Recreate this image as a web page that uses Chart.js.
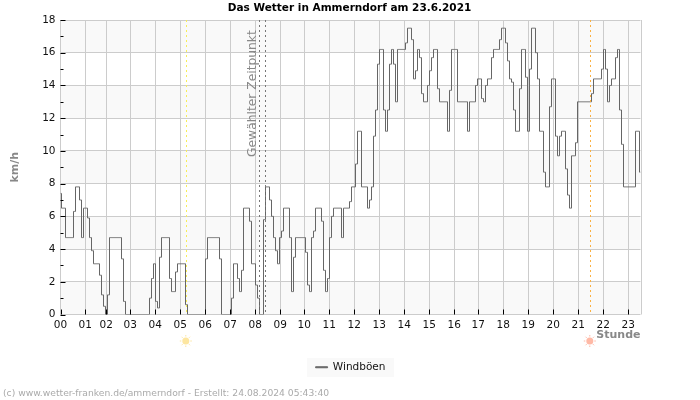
<!DOCTYPE html>
<html>
<head>
<meta charset="utf-8">
<title>Windböen</title>
<script src="https://cdn.jsdelivr.net/npm/chart.js@4"></script>
<style>
  html, body { margin: 0; padding: 0; background: #fff; }
  canvas { display: block; }
</style>
</head>
<body>
<canvas id="myChart" width="700" height="400"></canvas>
<script>
// one value per 2px column of the original plot
const windGusts = [
  7.4, 6.5, 6.5, 4.7, 4.7, 4.7, 4.7, 6.3, 7.8, 7.8, 7.0, 4.7,
  6.5, 6.5, 5.9, 4.7, 3.9, 3.1, 3.1, 3.1, 2.4, 1.2, 0.5, 0,
  1.2, 4.7, 4.7, 4.7, 4.7, 4.7, 4.7, 3.4, 0.8, 0, 0, 0,
  0, 0, 0, 0, 0, 0, 0, 0, 0, 1.0, 2.2, 3.1,
  0.8, 0.4, 3.5, 4.7, 4.7, 4.7, 4.7, 2.2, 1.4, 1.4, 2.6, 3.1,
  3.1, 3.1, 3.1, 0.6, 0, 0, 0, 0, 0, 0, 0, 0,
  0, 3.4, 4.7, 4.7, 4.7, 4.7, 4.7, 4.7, 3.4, 0, 0, 0,
  0, 0, 1.0, 3.1, 3.1, 2.2, 1.4, 2.7, 6.5, 6.5, 6.5, 5.7,
  3.1, 3.1, 1.8, 1.0, 0, 0, 5.8, 7.8, 7.8, 7.0, 6.0, 4.7,
  3.9, 3.1, 4.7, 5.1, 6.5, 6.5, 6.5, 4.7, 1.4, 3.5, 4.7, 4.7,
  4.7, 4.7, 4.7, 3.8, 1.8, 1.4, 4.7, 5.1, 6.5, 6.5, 6.5, 5.7,
  2.7, 1.4, 2.2, 4.7, 6.0, 6.5, 6.5, 6.5, 6.5, 4.7, 6.5, 6.5,
  6.5, 6.9, 7.8, 7.8, 9.2, 11.2, 11.2, 7.8, 7.8, 7.8, 6.5, 7.0,
  7.8, 10.9, 12.5, 15.3, 16.2, 16.2, 12.5, 11.2, 12.5, 15.3, 16.2, 15.3,
  13, 16.2, 16.2, 16.2, 16.2, 16.6, 17.5, 17.5, 16.8, 14.4, 14.9, 16.2,
  15.7, 13.5, 13, 13, 14, 14.9, 15.7, 16.2, 16.2, 13.8, 13, 13,
  13, 13, 11.2, 13.7, 16.2, 16.2, 16.2, 13, 13, 13, 13, 13,
  11.2, 13, 13, 13, 14, 14.4, 14.4, 13.2, 13, 14, 14.4, 14.4,
  15.7, 16.2, 16.2, 16.2, 16.8, 17.5, 17.5, 16.6, 15.5, 14.4, 14.2, 12.5,
  11.2, 11.2, 13.8, 16.2, 16.2, 14.5, 11.2, 15, 17.5, 17.5, 16, 14.4,
  11.2, 11.2, 8.7, 7.8, 7.8, 12.7, 14.4, 14.4, 10.9, 9.7, 10.9, 11.2,
  11.2, 8.9, 7.3, 6.5, 9.7, 9.7, 10.5, 13, 13, 13, 13, 13,
  13, 13, 13.5, 14.4, 14.4, 14.4, 14.4, 15, 16.2, 15, 13, 14,
  14.4, 14.4, 15.7, 16.2, 12.5, 10.4, 7.8, 7.8, 7.8, 7.8, 7.8, 7.8,
  11.2, 11.2, 8.7
];
const hourLabels = ["00","01","02","03","04","05","06","07","08","09","10","11",
  "12","13","14","15","16","17","18","19","20","21","22","23"];
// the hours are not evenly spaced in the original, samples are missing here and there
const hourPositions = [0, 12.4, 22.9, 34.9, 47.4, 59.9, 72.4, 84.9, 97.4, 109.9, 121.9, 134.4,
  146.9, 159.4, 171.9, 184.4, 196.9, 208.9, 221.4, 233.9, 246.4, 258.9, 271.4, 283.9];
const lastSample = 290;

const sunrise = 62.9;
const sunset = 264.9;
const chosenTimes = [99.4, 102.4];

const gridColor = "#cccccc";

const extras = {
  id: "extras",
  afterLayout(chart) {
    // the legend and title boxes stop at the right padding, put them back on the page centre
    const { legend, titleBlock } = chart;
    legend.left = 307;
    legend.right = 394;
    legend.width = 87;
    legend.top = 358;
    legend.bottom = 377;
    legend.height = 19;
    titleBlock.left = 0;
    titleBlock.right = 699;
    titleBlock.width = 699;
  },
  beforeDraw(chart) {
    const { ctx, chartArea: area, scales: { y }, legend } = chart;
    ctx.save();
    ctx.fillStyle = "#f9f9f9";
    for (let v = 0; v < 18; v += 4) {
      ctx.fillRect(area.left, y.getPixelForValue(v + 2), area.right - area.left, y.getPixelForValue(v) - y.getPixelForValue(v + 2));
    }
    ctx.fillRect(legend.left, legend.top, legend.width, legend.height);
    ctx.restore();
  },
  afterDatasetsDraw(chart) {
    const { ctx, chartArea: area, scales: { x, y } } = chart;
    ctx.save();

    // right frame line
    ctx.strokeStyle = gridColor;
    ctx.lineWidth = 1;
    ctx.beginPath();
    ctx.moveTo(Math.round(area.right) + 0.5, area.top);
    ctx.lineTo(Math.round(area.right) + 0.5, area.bottom);
    ctx.stroke();

    // inward tick marks
    ctx.strokeStyle = "#000";
    ctx.beginPath();
    hourPositions.forEach((p) => {
      const px = Math.round(x.getPixelForValue(p)) + 0.5;
      ctx.moveTo(px, area.bottom - 5);
      ctx.lineTo(px, area.bottom);
    });
    for (let v = 0; v <= 18; v++) {
      const py = Math.round(y.getPixelForValue(v)) + 0.5;
      ctx.moveTo(area.left, py);
      ctx.lineTo(area.left + (v % 2 ? 3 : 5), py);
    }
    ctx.stroke();

    // dotted marker lines
    const dotted = (pos, color) => {
      const px = Math.round(x.getPixelForValue(pos)) + 0.5;
      ctx.strokeStyle = color;
      ctx.setLineDash([2, 3]);
      ctx.beginPath();
      ctx.moveTo(px, area.top);
      ctx.lineTo(px, area.bottom);
      ctx.stroke();
      ctx.setLineDash([]);
    };
    dotted(sunrise, "#f7ee5a");
    dotted(sunset, "#fbb040");
    chosenTimes.forEach((t) => dotted(t, "#777777"));

    ctx.fillStyle = "#888888";
    ctx.font = "12.3px 'DejaVu Sans'";
    ctx.textAlign = "left";
    ctx.textBaseline = "alphabetic";
    ctx.translate(256, 157);
    ctx.rotate(-Math.PI / 2);
    ctx.fillText("Gewählter Zeitpunkt", 0, 0);
    ctx.restore();

    // sun icons under the axis
    const sun = (pos, color) => {
      const px = x.getPixelForValue(pos) - 0.5;
      const py = 341;
      ctx.save();
      ctx.fillStyle = color;
      ctx.strokeStyle = color;
      ctx.lineWidth = 1;
      ctx.beginPath();
      ctx.arc(px, py, 3.5, 0, Math.PI * 2);
      ctx.fill();
      for (let a = 0; a < 8; a++) {
        const ang = (a * Math.PI) / 4;
        ctx.beginPath();
        ctx.moveTo(px + Math.cos(ang) * 4.5, py + Math.sin(ang) * 4.5);
        ctx.lineTo(px + Math.cos(ang) * 6, py + Math.sin(ang) * 6);
        ctx.stroke();
      }
      ctx.restore();
    };
    sun(sunrise, "#fde6a0");
    sun(sunset, "#ffb9a6");

    ctx.save();
    ctx.fillStyle = "#aaaaaa";
    ctx.font = "9.2px 'DejaVu Sans'";
    ctx.textAlign = "left";
    ctx.textBaseline = "alphabetic";
    ctx.fillText("(c) www.wetter-franken.de/ammerndorf - Erstellt: 24.08.2024 05:43:40", 3, 396);
    ctx.restore();
  },
};

new Chart("myChart", {
  type: "line",
  data: {
    datasets: [
      {
        label: "Windböen",
        data: windGusts.map((v, i) => ({ x: i, y: v })),
        borderColor: "#666666",
        backgroundColor: "#666666",
        borderWidth: 1,
        pointRadius: 0,
        stepped: "middle",
        fill: false,
      },
    ],
  },
  options: {
    responsive: false,
    animation: false,
    devicePixelRatio: 1,
    layout: { padding: { left: 0, right: 59.5, top: 0, bottom: 23 } },
    scales: {
      x: {
        type: "linear",
        min: 0,
        max: lastSample,
        afterBuildTicks(scale) {
          scale.ticks = hourPositions.map((p) => ({ value: p }));
        },
        afterFit(scale) {
          scale.height = 38;
        },
        grid: { color: gridColor, drawTicks: false },
        border: { display: false },
        ticks: {
          autoSkip: false,
          maxRotation: 0,
          padding: 4,
          color: "#111",
          font: { family: "'DejaVu Sans'", size: 10.5 },
          callback: (value, index) => hourLabels[index],
        },
        title: {
          display: true,
          text: "Stunde",
          align: "end",
          color: "#888888",
          font: { family: "'DejaVu Sans'", size: 11, weight: "bold" },
          padding: { top: 0, bottom: 11 },
        },
      },
      y: {
        min: 0,
        max: 18,
        afterFit(scale) {
          scale.width = 60.5;
        },
        grid: {
          color: (ctx) => (ctx.tick && ctx.tick.value % 2 ? "rgba(0,0,0,0)" : gridColor),
          drawTicks: false,
        },
        border: { display: false },
        ticks: {
          stepSize: 1,
          autoSkip: false,
          padding: 5,
          color: "#111",
          font: { family: "'DejaVu Sans'", size: 10.5 },
          callback: (value) => (value % 2 ? "" : value),
        },
        title: {
          display: true,
          text: "km/h",
          color: "#888888",
          font: { family: "'DejaVu Sans'", size: 11, weight: "bold" },
          padding: { top: 9, bottom: 0 },
        },
      },
    },
    plugins: {
      title: {
        display: true,
        text: "Das Wetter in Ammerndorf am 23.6.2021",
        color: "#000",
        font: { family: "'DejaVu Sans'", size: 10.5, weight: "bold" },
        padding: { top: 2, bottom: 5.4 },
      },
      legend: {
        position: "bottom",
        labels: {
          color: "#111",
          font: { family: "'DejaVu Sans'", size: 10.5 },
          boxWidth: 12,
          boxHeight: 1,
          padding: 4,
        },
      },
      tooltip: { enabled: false },
    },
  },
  plugins: [extras],
});
</script>
</body>
</html>
